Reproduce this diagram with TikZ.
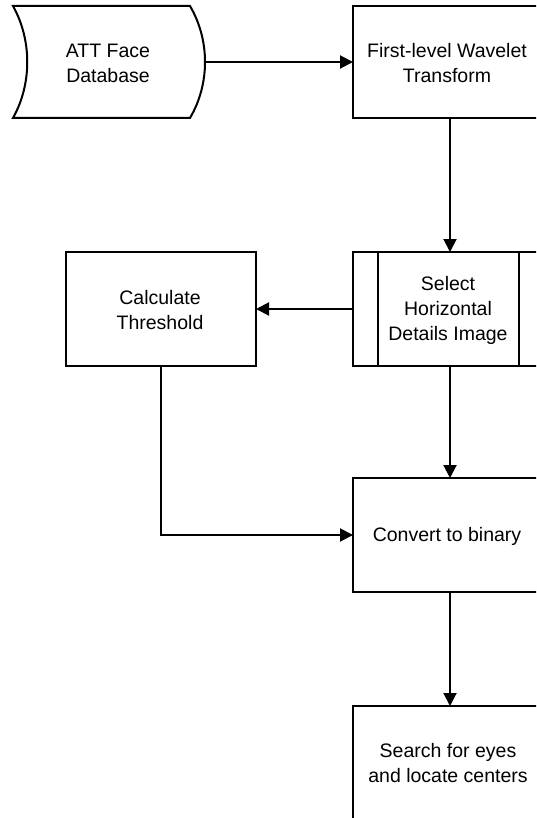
\documentclass[tikz,border=0pt]{standalone}
\usepackage{fontspec}
\setmainfont{Liberation Sans}
\usetikzlibrary{arrows.meta}
\tikzset{
  flowline/.style={line width=2pt},
  arr/.style={flowline, -{Triangle[length=13pt,width=13pt]}},
  txt/.style={align=center, font=\fontsize{19.5}{25}\selectfont, inner sep=0pt},
}
\begin{document}
\begin{tikzpicture}[x=1pt, y=-1pt, line join=miter]
\useasboundingbox (0,0) rectangle (536,818);
\clip (0,0) rectangle (536,818);

% stored data shape
\draw[flowline] (13,6) -- (190,6)
  .. controls (210,40) and (210,84) .. (190,118)
  -- (13,118)
  .. controls (32,84) and (32,40) .. (13,6) -- cycle;
\coordinate (db) at (205,62);
\node[txt] (dbt) at (108,63) {ATT Face\\Database};

% process boxes
\draw[flowline] (353,6) rectangle (546,118);
\node[txt] (wav) at (447,63) {First-level Wavelet\\Transform};
\coordinate (wavW) at (353,62);
\coordinate (wavS) at (450,118);

\draw[flowline] (353,252) rectangle (546,366);
\draw[flowline] (378,252) -- (378,366);
\draw[flowline] (519,252) -- (519,366);
\node[txt] (sel) at (448,310) {Select\\Horizontal\\Details Image};
\coordinate (selN) at (450,252);
\coordinate (selW) at (353,309);
\coordinate (selS) at (450,366);

\draw[flowline] (66,252) rectangle (256,366);
\node[txt] (thr) at (160,310) {Calculate\\Threshold};
\coordinate (thrE) at (256,309);
\coordinate (thrS) at (161,366);

\draw[flowline] (353,478) rectangle (546,592);
\node[txt] (bin) at (447,536) {Convert to binary};
\coordinate (binN) at (450,478);
\coordinate (binW) at (353,535);
\coordinate (binS) at (450,592);

\draw[flowline] (353,706) rectangle (546,822);
\node[txt] (eye) at (448,763) {Search for eyes\\and locate centers};
\coordinate (eyeN) at (450,706);

% connectors
\draw[arr] (db) -- (wavW);
\draw[arr] (wavS) -- (selN);
\draw[arr] (selW) -- (thrE);
\draw[arr] (selS) -- (binN);
\draw[arr] (thrS) |- (binW);
\draw[arr] (binS) -- (eyeN);
\end{tikzpicture}
\end{document}
